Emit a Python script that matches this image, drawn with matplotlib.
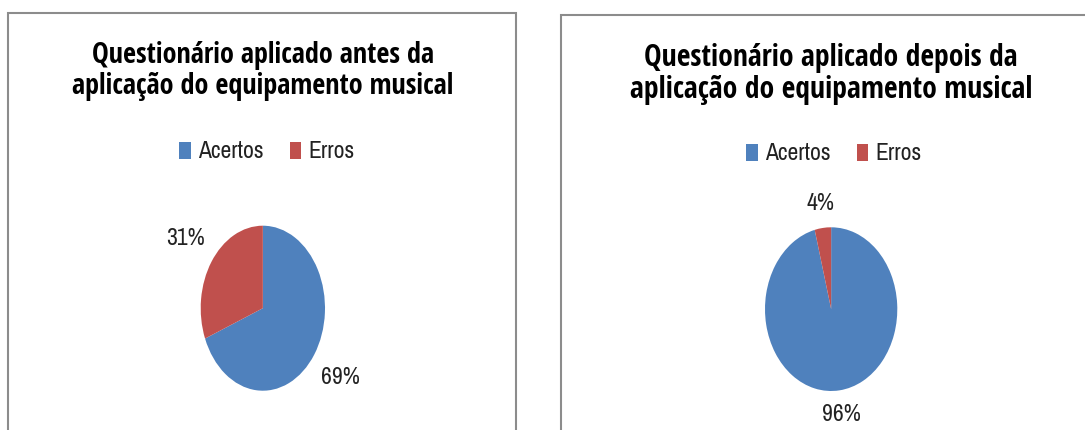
import numpy as np
import matplotlib.pyplot as plt
from matplotlib.patches import Rectangle, Patch

W, H = 1085, 430

categorias = ['Acertos', 'Erros']
antes = [69, 31]
depois = [96, 4]
titulo_antes = 'Questionário aplicado antes da\naplicação do equipamento musical'
titulo_depois = 'Questionário aplicado depois da\naplicação do equipamento musical'
cores = ['#4F81BD', '#C0504D']

fonte_titulo = ['Open Sans Condensed', 'DejaVu Sans']
fonte_texto = ['Archivo Narrow', 'DejaVu Sans']


def fx(px):
    return px / W


def fy(py):
    return 1 - py / H


def painel(fig, x0, x1, y0, valores, titulo, pie_box, dist, title_xy, title_size, leg_xy):
    # moldura cinza do grafico
    fig.patches.append(Rectangle((fx(x0), -0.1), fx(x1) - fx(x0), fy(y0) + 0.1,
                                 transform=fig.transFigure, fill=False,
                                 edgecolor='#8c8c8c', linewidth=1.5))

    fig.text(fx(title_xy[0]), fy(title_xy[1]), titulo, ha='center', va='center',
             fontsize=title_size, fontweight='bold', linespacing=1.05,
             family=fonte_titulo)

    handles = [Patch(facecolor=c, edgecolor='none') for c in cores]
    fig.legend(handles, categorias, loc='center',
               bbox_to_anchor=(fx(leg_xy[0]), fy(leg_xy[1])), ncol=2, frameon=False,
               prop=dict(family=fonte_texto, size=17), handlelength=0.5,
               handleheight=0.75, handletextpad=0.3, columnspacing=1.1,
               labelcolor='#222222')

    l, t, r, b = pie_box
    ax = fig.add_axes([fx(l), fy(b), fx(r) - fx(l), fy(t) - fy(b)])
    wedges, _ = ax.pie(valores, colors=cores, startangle=90, counterclock=False,
                       wedgeprops=dict(linewidth=0))
    ax.set_aspect('auto')
    ax.set_xlim(-1, 1)
    ax.set_ylim(-1, 1)
    ax.axis('off')

    for w, v, d in zip(wedges, valores, dist):
        ang = np.deg2rad((w.theta1 + w.theta2) / 2)
        ax.text(d * np.cos(ang), d * np.sin(ang), f'{v}%', ha='center', va='center',
                fontsize=17, color='#222222', clip_on=False, family=fonte_texto)


fig = plt.figure(figsize=(W / 100, H / 100), dpi=100)

painel(fig, 8, 516, 13, antes, titulo_antes, (200.7, 225.7, 325, 390.7),
       (1.5, 1.5), (263, 71), 20.3, (267, 152))
painel(fig, 561, 1100, 15, depois, titulo_depois, (765, 227.3, 897.3, 391),
       (1.3, 1.3), (831, 74), 21.3, (834, 154))

fig.savefig('out.png', dpi=100)
